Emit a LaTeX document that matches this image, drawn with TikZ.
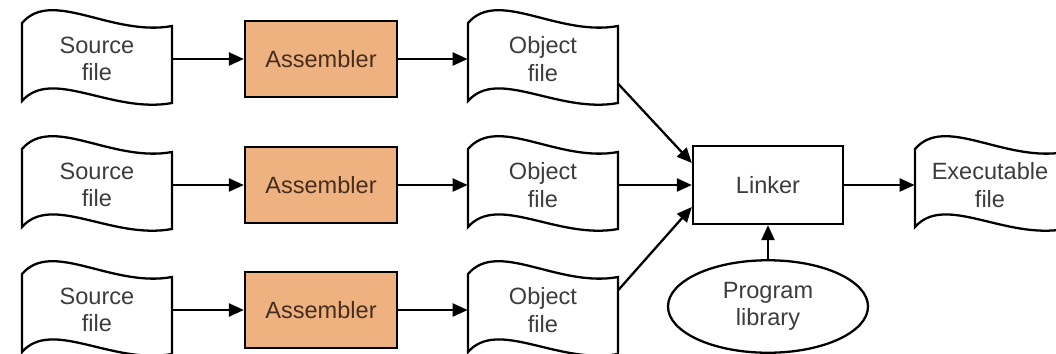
\documentclass[tikz,border=0pt]{standalone}
\usepackage{fontspec}
\setmainfont{Liberation Sans}
\usetikzlibrary{arrows.meta,shapes.geometric}

\definecolor{asmfill}{RGB}{238,178,128}
\definecolor{asmtext}{RGB}{70,45,30}
\definecolor{txtgray}{RGB}{60,60,60}

\tikzset{%
  % Specifications for style of nodes:
         file/.style = {minimum width=3cm, minimum height=1.52cm, inner sep=0pt, text=txtgray,
                        append after command={\pgfextra{\draw[line width=1.3pt, shift={(\tikzlastnode.center)}]
                          (-1.5,0.72) .. controls (-0.9,1.42) and (0.3,0.44) .. (1.5,0.66) -- (1.5,-0.88)
                          .. controls (0.3,-1.10) and (-0.9,-0.16) .. (-1.5,-0.84) -- cycle;}}},
    assembler/.style = {rectangle, draw = black, line width=1.3pt, minimum width=3.04cm, minimum height=1.52cm, fill=asmfill, text=asmtext},
       linker/.style = {rectangle, draw = black, line width=1.3pt, minimum width=3cm, minimum height=1.56cm, text=txtgray},
      library/.style = {ellipse, draw = black, line width=1.3pt, minimum width=4cm, minimum height=1.85cm, inner sep=0pt, text=txtgray},
         line/.style = {->, line width=1.3pt},
}

\begin{document}
\begin{tikzpicture}[>={Triangle[length=3mm,width=2.6mm]}, every node/.style={font=\fontsize{13.4pt}{15.5pt}\selectfont}, align=center]
    \useasboundingbox (-1.94,1.18) rectangle (19.18,-5.88);

    % Draw nodes
    \node (src1)   [file]      at (0,0)          {Source\\file};
    \node (asm1)   [assembler] at (4.48,0)       {Assembler};
    \node (obj1)   [file]      at (8.92,0)       {Object\\file};

    \node (src2)   [file]      at (0,-2.52)      {Source\\file};
    \node (asm2)   [assembler] at (4.48,-2.52)   {Assembler};
    \node (obj2)   [file]      at (8.92,-2.52)   {Object\\file};

    \node (src3)   [file]      at (0,-5.02)      {Source\\file};
    \node (asm3)   [assembler] at (4.48,-5.02)   {Assembler};
    \node (obj3)   [file]      at (8.92,-5.02)   {Object\\file};

    \node (link)   [linker]    at (13.42,-2.52)  {Linker};
    \node (lib)    [library]   at (13.42,-4.95)  {Program\\library};
    \node (exe)    [file]      at (17.86,-2.52)  {Executable\\file};

    % Draw arrows
    \draw[line]   (src1) -- (asm1);
    \draw[line]   (asm1) -- (obj1);
    \draw[line]   (src2) -- (asm2);
    \draw[line]   (asm2) -- (obj2);
    \draw[line]   (src3) -- (asm3);
    \draw[line]   (asm3) -- (obj3);

    \draw[line]   ([yshift=-5mm]obj1.east) -- ([yshift=4.4mm]link.west);
    \draw[line]   (obj2) -- (link);
    \draw[line]   ([yshift=4mm]obj3.east) -- ([yshift=-4.4mm]link.west);

    \draw[line]   (link) -- (exe);
    \draw[line]   (lib) -- (link);

\end{tikzpicture}
\end{document}
